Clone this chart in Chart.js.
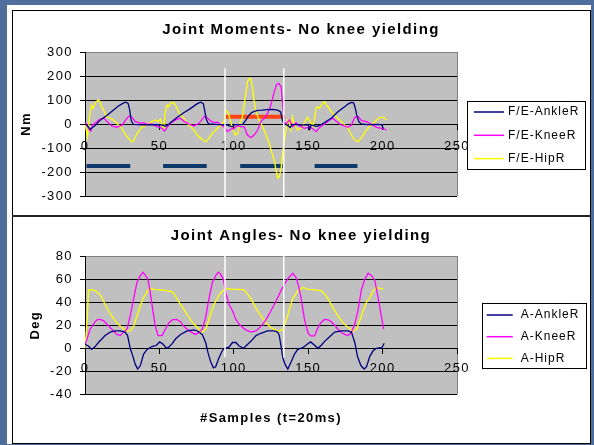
<!DOCTYPE html>
<html><head><meta charset="utf-8">
<script src="https://cdn.jsdelivr.net/npm/chart.js@4.4.1/dist/chart.umd.min.js"></script>
<style>
html,body{margin:0;padding:0}
body{width:594px;height:445px;background:#4f6e9b;position:relative;overflow:hidden;font-family:"Liberation Sans",Arial,sans-serif}
#white{position:absolute;left:7px;top:5px;width:584px;height:439px;background:#fff}
#frame{position:absolute;left:12px;top:10px;width:579px;height:434px;border:1px solid #000;box-sizing:border-box}
#sep{position:absolute;left:12px;top:215px;width:579px;height:2px;background:#222}
canvas{position:absolute;left:13px}
#c1{top:11px}
#c2{top:217px}
</style></head>
<body>
<div id="white"></div>
<div id="frame"></div>
<canvas id="c1" width="576" height="204"></canvas>
<canvas id="c2" width="576" height="225"></canvas>
<div id="sep"></div>
<script>
// ---------- Joint moments (Nm) ----------
const momAnkleX = [0,2,3.5,5,7,10,14.6,19,22.5,26,27.7,29,30,31,32.5,40,48,52,54,55.5,57.4,62,66.4,71,75.5,77.7,79.5,80.5,81.5,83,90,95,99,100.5,104,106,108,110,112,114,116,119,122,126,129.5,131.5,132.5,133.5,136,138,139,142,146,150,151,152,154,156,158,161,165.5,170,174.5,177,179,180.5,181.5,182.5,184,185.5,190,196,199.5,200.5];
const momAnkleY = [0,-10,-22,-15,-5,15,35,57,75,88,91,85,60,15,-2,-4,-3,-5,-10,-5,5,28,47,65,85,91,85,55,20,0,-3,-4,-12,-3,-3,-2,15,35,48,53,57,58,60,61,58,50,20,2,-5,-15,-3,-2,-5,-3,-22,-4,-8,-10,-5,6,24,51,72,84,90,88,70,40,10,0,-3,-2,-3,-20];

const momKneeX = [0,1.5,3,4,5,7,10,12.4,14.6,18,21.4,24.8,28.2,30,31.5,33.8,37.2,39.4,41.7,45,48.4,51.8,53.4,55.2,57.4,60.8,64.2,66.4,69.8,73.2,76.6,80.4,82.2,84.5,87,89,91.2,93.2,95.7,98,100,102.3,104.7,107,109.2,111.5,113.7,116,118.2,120.5,122.7,124.9,127.2,128.8,130.2,131.8,132.9,133.6,135.1,137.4,139.6,141.9,144.1,147.5,151,153,155.4,157.7,161,164.4,166.7,169,172.3,176.8,179,181.3,183.6,185.8,189.2,192.6,196,199.3,202.7];
const momKneeY = [5,-5,-25,-30,-5,5,19,25,12,-8,-14,-5,24,34,28,10,4,6,-2,0,-11,-18,-30,-14,3,17,24,12,0,-8,3,33,25,12,6,8,-3,-10,-32,-21,-18,-7,-11,-12,-46,-57,-46,-25,10,24,44,79,135,165,169,155,79,10,0,17,-11,5,-8,-18,-12,-20,-32,-14,0,17,24,10,-4,-14,-4,28,31,14,10,-2,-14,-18,-25];

const momHipX = [0,1,1.6,2.5,3.4,4.5,5.6,6.8,8,9,10.1,11,12.4,14.6,16.9,19.1,22.5,24.8,27,29.3,31.5,32.7,33.8,36,38.3,41.7,45,47.3,48.9,50.7,51.8,52.9,54,55.2,56.3,57.4,59.7,60.8,62.4,64.2,66.4,68.7,70.9,73.2,75.5,77.7,81.1,83.3,85.6,89,91.2,93.5,94.6,96.4,98,99.5,101,102.5,103.6,104.5,105.6,106.9,108.1,109.2,110.4,111.5,112.6,113.7,114.9,117.1,119.4,121.6,123.9,125,126.1,127.3,128.4,129.5,130.6,131.8,132.9,134,135.1,136.3,137.2,138.3,139.4,140.5,142.8,145,147.3,149.5,151.4,153,154.3,155.4,156.5,157.7,158.8,161,162.2,163.3,165.5,167.8,170,172.3,174.5,176.8,179,181.3,183.6,184.7,187,189.2,191.4,193.7,196,198.2,200.5,202.7];
const momHipY = [0,-30,-53,-10,51,79,65,86,95,100,93,75,58,30,25,17,-4,-18,-42,-60,-74,-70,-53,-32,-13,-4,10,17,10,21,-3,-18,51,79,72,86,89,79,58,37,24,3,-11,-25,-46,-60,-74,-60,-39,-18,-4,10,58,44,5,-25,-46,-40,-10,10,24,79,128,176,190,188,149,93,51,17,-11,-46,-81,-108,-129,-157,-192,-226,-219,-185,-115,-67,-25,17,10,-25,28,0,-25,-18,3,28,10,-11,24,65,72,65,79,93,80,72,51,37,24,10,-4,-18,-46,-67,-74,-65,-46,-25,-8,3,17,28,28,17];

// stance-phase bars and marked interval (top panel)
const stanceStart = [1,52.5,104.3,154.3];
const stanceEnd = [30.4,81.8,132.9,183.1];
const stanceLevel = -175;
const markStart = 94.1, markEnd = 134.3, markLevel = 30;
// white vertical guide lines (sample index)
const guideX = [94.1,133.6];
const guideTopValue = 232;   // top panel, Nm
const guideBottomValue = -8; // bottom panel, Deg

// ---------- Joint angles (Deg) ----------
const angAnkleX = [0,2.3,4.5,6.8,9,11.3,13.5,16.9,20.3,23.6,27,28.6,30.4,32.2,33.8,35.4,37.2,39.4,41.7,45,48,50.2,52.5,54.7,56.3,58.6,60.8,64.2,68.7,73.2,75.5,78.8,81.1,82.7,84.5,86.3,87.8,90.1,92.3,93.9,96.8,99.1,101.4,103.6,106.5,108.1,111.5,114.9,118.2,122.7,127.2,129.5,130.6,131.7,132.9,134.5,136.3,138.5,140.8,143,146.4,149.3,151.6,154.3,156.5,158.8,161,164.4,167.8,172.3,176.8,179,181.3,183.1,185.4,187.6,189.2,191.4,193.7,196,198.2,199.3,201.1];
const angAnkleY = [3.5,2,-1,1.5,5,8,11,14,15,15,14,11,0,-7,-14,-18,-15,-5,-1,1.5,2.6,5.5,3.5,0,1,4,8,12,15,16,15,12,5,-4,-12,-17,-16,-8,-2,0,1,5,5,2,0,2,6,11,13,15,15,14,11,2,-8,-14,-18,-12,-5,-1,0.5,3.5,5.5,2.6,0,2.6,6,10,14,15,15,14,5,-7,-15,-18,-16,-7,-2,0,0.5,0,4.3];

const angKneeX = [0,1.6,3.4,5.6,7.9,10.1,12.4,14.6,18,21.4,23.6,25.9,28.2,30.4,32.7,34.9,37.2,39,40.5,42.3,43.9,45.7,47.3,49.1,51.8,54,56.3,58.6,61.5,64.2,66.4,68.7,72,74.3,76.6,78.8,81.1,83.3,85.6,87.8,89.6,91.2,93,94.6,96.8,99.1,101.4,103.6,105.9,108.1,111.5,114.9,118.2,121.6,125,128.4,131.7,134,136.7,139.6,141.9,143.5,145.3,147.5,149.8,151.6,154.3,156.1,158.3,161,163.3,165.5,167.8,170,172.3,174.5,176.8,179,181.3,183.6,185.8,188.1,190.3,192.6,194.8,197.1,199.3,200.7];
const angKneeY = [3,9,16.5,21,24.6,25,24,21,16.5,12,11,14,16.5,28,43,57,63,65.8,63.5,60,48,32,19,11,11,16.5,22,24.6,25,23,19,16.5,13.6,12,13.6,16.5,26.7,43,57,63,66,64,60,48,38,32.5,25,21,18,16,14,15,19,24.6,32.5,41,50,55.6,61,65,61,54,43,25,13.6,10.7,10.7,16.5,22,25,24.6,23,20,16.5,13.6,12,11,13.6,21,34,51,60,65,63,58.6,43,26.7,16.5];

const angHipX = [0,1.6,2.3,4.5,6.8,9,11.3,13.5,15.8,18,21.4,24.8,28.2,30.4,32.7,34.9,37.2,39.4,41.7,43.9,46.2,50.7,55.2,58.6,60.8,63.1,66.4,69.8,73.2,76.6,78.8,81.1,83.3,85.6,87.8,91.2,94.6,98,102.5,107,109.2,111.5,114.9,118.2,121.6,125,128.4,130.6,132.9,135.2,137.4,139.6,143,146.4,149.8,154.3,158.8,161,163.3,166.7,170,173.4,176.8,180.2,182.4,184.7,187,189.2,191.4,193.7,196,198.2,200.5];
const angHipY = [0,28,50.7,50.7,50,48,44,38,32.5,28,22,18,15,15,19,28,37,44,49,52,51,50.7,50,49,45.5,40,34,26.7,21,16.5,14,16.5,25,34,41,48,52,51,51,50.7,47,43,35,28,22,18,15.6,15,16.5,24,34,43,50,52.8,51,50.7,50,47,43,35,28,22,18,15,16.5,24,32.5,40,44,50,52.8,52,51];

const momLabels = ['F/E-AnkleR','F/E-KneeR','F/E-HipR'];
const angLabels = ['A-AnkleR','A-KneeR','A-HipR'];
const seriesColors = ['#000080','#ff00ff','#ffff00'];
const xTicks = {min:0,max:250,step:50};
const momTicks = {min:-300,max:300,step:100};
const angTicks = {min:-40,max:80,step:20};

const FONT = '"Liberation Sans", Arial, sans-serif';
const pts = (xs, ys) => xs.map((x, i) => ({x, y: ys[i]}));

function segmentedBars(starts, ends, level) {
  const out = [];
  starts.forEach((s, i) => {
    out.push({x: s, y: level}, {x: ends[i], y: level});
    if (i < starts.length - 1) out.push({x: (ends[i] + starts[i + 1]) / 2, y: null});
  });
  return out;
}

function lineDs(label, data, color) {
  return {label, data, borderColor: color, backgroundColor: color, borderWidth: 1.3,
          pointRadius: 0, tension: 0, fill: false};
}

const plotBg = {
  id: 'plotBg',
  beforeDraw(chart) {
    const {ctx, chartArea: a} = chart;
    ctx.letterSpacing = '1.4px';
    ctx.save();
    ctx.fillStyle = '#c0c0c0';
    ctx.fillRect(a.left, a.top, a.right - a.left, a.bottom - a.top);
    ctx.strokeStyle = '#808080';
    ctx.lineWidth = 1;
    ctx.beginPath();
    ctx.moveTo(Math.round(a.right) + 0.5, a.top);
    ctx.lineTo(Math.round(a.right) + 0.5, a.bottom);
    ctx.stroke();
    ctx.restore();
  }
};

const extras = {
  id: 'extras',
  afterDraw(chart, args, opts) {
    const {ctx, chartArea: a, scales} = chart;
    // guide lines
    ctx.save();
    ctx.strokeStyle = '#ffffff';
    ctx.lineWidth = 1.5;
    guideX.forEach(v => {
      const px = scales.x.getPixelForValue(v);
      const y0 = opts.guideFrom === 'value' ? scales.y.getPixelForValue(opts.guideTop) : a.top;
      const y1 = opts.guideTo === 'value' ? scales.y.getPixelForValue(opts.guideBottom) : chart.height;
      ctx.beginPath(); ctx.moveTo(px, y0); ctx.lineTo(px, y1); ctx.stroke();
    });
    ctx.restore();
    // legend
    const L = opts.legend;
    ctx.save();
    ctx.letterSpacing = '1px';
    const left = a.right + L.dx;
    ctx.fillStyle = '#fff';
    ctx.fillRect(left, L.top, L.w, L.h);
    ctx.strokeStyle = '#000';
    ctx.lineWidth = 1;
    ctx.strokeRect(Math.round(left) + 0.5, Math.round(L.top) + 0.5, L.w, L.h);
    ctx.font = '12px ' + FONT;
    ctx.textBaseline = 'middle';
    ctx.textAlign = 'left';
    chart.data.datasets.slice(0, 3).forEach((ds, i) => {
      const y = L.top + L.first + i * L.gap;
      ctx.strokeStyle = ds.borderColor;
      ctx.lineWidth = 1.5;
      ctx.beginPath(); ctx.moveTo(left + L.lx0, y); ctx.lineTo(left + L.lx1, y); ctx.stroke();
      ctx.fillStyle = '#000';
      ctx.fillText(ds.label, left + L.tx, y);
    });
    ctx.restore();
  }
};

function yScale(t, title, titlePad) {
  return {
    min: t.min, max: t.max,
    afterFit: s => { s.width = 72; },
    ticks: {stepSize: t.step, color: '#000', padding: 7, font: {family: FONT, size: 13}},
    grid: {color: c => (c.tick && c.tick.value === t.max) ? '#808080' : '#000', lineWidth: 1,
           drawTicks: true, tickLength: 5, tickColor: '#000'},
    border: {display: true, color: '#000', width: 1},
    title: {display: true, text: title, color: '#000', font: {family: FONT, size: 13, weight: 'bold'},
            padding: {top: titlePad, bottom: 0}}
  };
}
// invisible right-hand spacer axis that reserves room for the legend box
const legendSpacer = {
  type: 'linear', position: 'right', display: true, min: 0, max: 1,
  afterFit: s => { s.width = 132; },
  ticks: {display: false}, grid: {display: false, drawTicks: false}, border: {display: false}
};
function xScale(pad) {
  return {
    type: 'linear', position: {y: 0}, min: xTicks.min, max: xTicks.max,
    ticks: {stepSize: xTicks.step, color: '#000', padding: pad, maxRotation: 0, autoSkip: false,
            font: {family: FONT, size: 13}},
    grid: {drawOnChartArea: false, drawTicks: true, tickLength: 5, color: '#000'},
    border: {display: true, color: '#000', width: 1}
  };
}

Chart.defaults.animation = false;

new Chart(document.getElementById('c1'), {
  type: 'line',
  data: {datasets: [
    lineDs(momLabels[0], pts(momAnkleX, momAnkleY), seriesColors[0]),
    lineDs(momLabels[1], pts(momKneeX, momKneeY), seriesColors[1]),
    lineDs(momLabels[2], pts(momHipX, momHipY), seriesColors[2]),
    {label: 'stance', data: segmentedBars(stanceStart, stanceEnd, stanceLevel), borderColor: '#0d3a6b',
     borderWidth: 4, pointRadius: 0, spanGaps: false, borderCapStyle: 'butt'},
    {label: 'mark', data: [{x: markStart, y: markLevel}, {x: markEnd, y: markLevel}], borderColor: '#ff4416',
     borderWidth: 4, pointRadius: 0, borderCapStyle: 'butt'}
  ]},
  options: {
    responsive: false, devicePixelRatio: 1,
    layout: {padding: {left: 0, right: 0, top: 0, bottom: 19}},
    plugins: {
      legend: {display: false}, tooltip: {enabled: false},
      title: {display: true, text: 'Joint Moments- No knee yielding', color: '#000',
              font: {family: FONT, size: 15, weight: 'bold'}, padding: {top: 10, bottom: 13}},
      extras: {guideFrom: 'value', guideTop: guideTopValue, guideTo: 'edge',
               legend: {dx: 10, top: 90, w: 118, h: 68, first: 11, gap: 23.3, lx0: 7, lx1: 37, tx: 41}}
    },
    scales: {x: xScale(10), y: yScale(momTicks, 'Nm', 6), yr: legendSpacer}
  },
  plugins: [plotBg, extras]
});

new Chart(document.getElementById('c2'), {
  type: 'line',
  data: {datasets: [
    lineDs(angLabels[0], pts(angAnkleX, angAnkleY), seriesColors[0]),
    lineDs(angLabels[1], pts(angKneeX, angKneeY), seriesColors[1]),
    lineDs(angLabels[2], pts(angHipX, angHipY), seriesColors[2])
  ]},
  options: {
    responsive: false, devicePixelRatio: 1,
    layout: {padding: {left: 0, right: 0, top: 0, bottom: 12}},
    plugins: {
      legend: {display: false}, tooltip: {enabled: false},
      title: {display: true, text: 'Joint Angles- No knee yielding', color: '#000',
              font: {family: FONT, size: 15, weight: 'bold'}, padding: {top: 10, bottom: 11}},
      extras: {guideFrom: 'area', guideTo: 'value', guideBottom: guideBottomValue,
               legend: {dx: 24.7, top: 86.3, w: 104, h: 65, first: 11.7, gap: 21.7, lx0: 5, lx1: 31, tx: 39}}
    },
    scales: {
      x: xScale(7),
      x2: {type: 'linear', position: 'bottom', min: 0, max: 1,
           ticks: {display: false}, grid: {display: false, drawTicks: false}, border: {display: false},
           title: {display: true, text: '#Samples (t=20ms)', color: '#000',
                   font: {family: FONT, size: 13, weight: 'bold'}, padding: {top: 16, bottom: 4}}},
      y: yScale(angTicks, 'Deg', 14.7),
      yr: legendSpacer
    }
  },
  plugins: [plotBg, extras]
});
</script>
</body></html>
